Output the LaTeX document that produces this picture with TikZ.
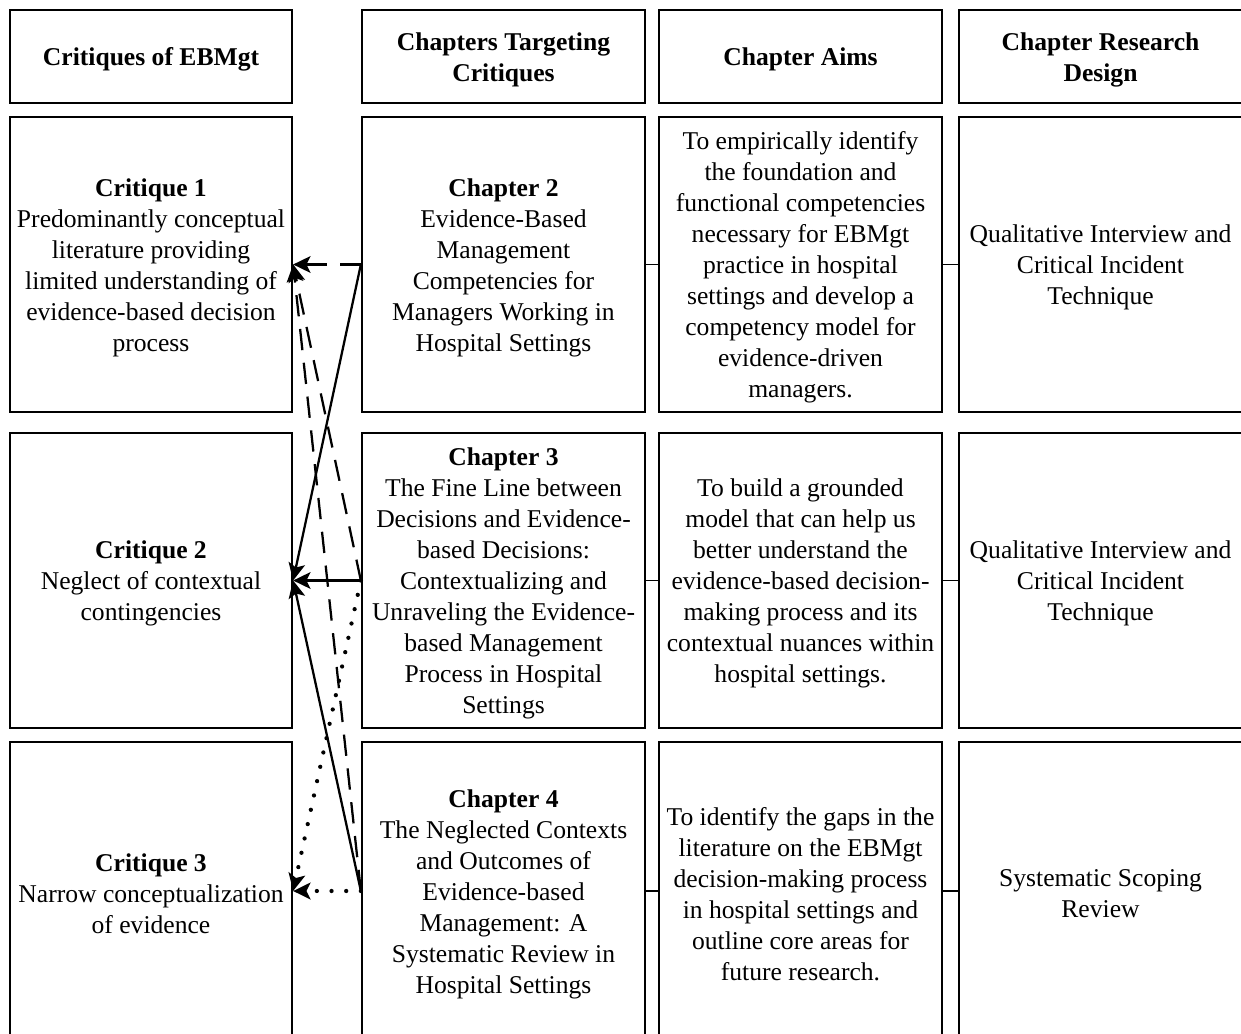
\documentclass[tikz,border=0pt]{standalone}
\usepackage{fontspec}
\setmainfont{Liberation Serif}
\usetikzlibrary{arrows.meta}
\begin{document}
\begin{tikzpicture}[x=0.75pt,y=-0.75pt,
  cell/.style={draw, line width=1.7pt, inner sep=0pt},
  colA/.style={minimum width=211.5pt},
  colB/.style={minimum width=212.25pt},
  hd/.style={cell, minimum height=69.75pt},
  rowbox/.style={cell, minimum height=221.25pt},
  lastbox/.style={cell, minimum height=223.5pt},
  txt/.style={align=center, inner sep=0pt, yshift=-2.25pt,
    font=\fontsize{19.2pt}{23.25pt}\selectfont},
  hdtxt/.style={txt, font=\fontsize{19.2pt}{23.25pt}\selectfont\bfseries},
  link/.style={line width=1.4pt},
  tip/.style={-{Stealth[length=13pt,width=12.5pt,inset=3pt]}},
  sol/.style={tip, line width=1.7pt},
  dsh/.style={tip, line width=1.7pt, dash pattern=on 16pt off 9.5pt},
  dot/.style={tip, line width=3.2pt, line cap=round, dash pattern=on 0pt off 11pt}
]
\useasboundingbox (0,0) rectangle (1241,1034);
\clip (0,0) rectangle (1241,1034);

% column headings
\node[hd, colA] (h1) at (151,56.5) {};
\node[hd, colB] (h2) at (503.5,56.5) {};
\node[hd, colB] (h3) at (800.5,56.5) {};
\node[hd, colB] (h4) at (1100.5,56.5) {};
\node[hdtxt] (h1t) at (h1.center) {Critiques of EBMgt};
\node[hdtxt] (h2t) at (h2.center) {Chapters Targeting\\Critiques};
\node[hdtxt] (h3t) at (h3.center) {Chapter Aims};
\node[hdtxt] (h4t) at (h4.center) {Chapter Research\\Design};

% row 1
\node[rowbox, colA] (c1) at (151,264.5) {};
\node[rowbox, colB] (ch2) at (503.5,264.5) {};
\node[rowbox, colB] (a1) at (800.5,264.5) {};
\node[rowbox, colB] (d1) at (1100.5,264.5) {};
\node[txt] (c1t) at (c1.center) {\textbf{Critique 1}\\Predominantly conceptual\\literature providing\\limited understanding of\\evidence-based decision\\process};
\node[txt] (ch2t) at (ch2.center) {\textbf{Chapter 2}\\Evidence-Based\\Management\\Competencies for\\Managers Working in\\Hospital Settings};
\node[txt] (a1t) at (a1.center) {To empirically identify\\the foundation and\\functional competencies\\necessary for EBMgt\\practice in hospital\\settings and develop a\\competency model for\\evidence-driven\\managers.};
\node[txt] (d1t) at (d1.center) {Qualitative Interview and\\Critical Incident\\Technique};

% row 2
\node[rowbox, colA] (c2) at (151,580.5) {};
\node[rowbox, colB] (ch3) at (503.5,580.5) {};
\node[rowbox, colB] (a2) at (800.5,580.5) {};
\node[rowbox, colB] (d2) at (1100.5,580.5) {};
\node[txt] (c2t) at (c2.center) {\textbf{Critique 2}\\Neglect of contextual\\contingencies};
\node[txt] (ch3t) at (ch3.center) {\textbf{Chapter 3}\\The Fine Line between\\Decisions and Evidence-\\based Decisions:\\Contextualizing and\\Unraveling the Evidence-\\based Management\\Process in Hospital\\Settings};
\node[txt] (a2t) at (a2.center) {To build a grounded\\model that can help us\\better understand the\\evidence-based decision-\\making process and its\\contextual nuances within\\hospital settings.};
\node[txt] (d2t) at (d2.center) {Qualitative Interview and\\Critical Incident\\Technique};

% row 3 (runs past the lower edge)
\node[lastbox, colA] (c3) at (151,891) {};
\node[lastbox, colB] (ch4) at (503.5,891) {};
\node[lastbox, colB] (a3) at (800.5,891) {};
\node[lastbox, colB] (d3) at (1100.5,891) {};
\node[txt] (c3t) at (c3.center) {\textbf{Critique 3}\\Narrow conceptualization\\of evidence};
\node[txt] (ch4t) at (ch4.center) {\textbf{Chapter 4}\\The Neglected Contexts\\and Outcomes of\\Evidence-based\\Management: A\\Systematic Review in\\Hospital Settings};
\node[txt] (a3t) at (a3.center) {To identify the gaps in the\\literature on the EBMgt\\decision-making process\\in hospital settings and\\outline core areas for\\future research.};
\node[txt] (d3t) at (d3.center) {Systematic Scoping\\Review};

% links along each row
\foreach \r in {1,2,3} {
  \draw[link] (a\r.east) -- (d\r.west);
}
\draw[link] (ch2.east) -- (a1.west);
\draw[link] (ch3.east) -- (a2.west);
\draw[link] (ch4.east) -- (a3.west);

% chapters pointing back to the critiques they address
\draw[dsh] (ch2.west) -- (c1.east);
\draw[sol] (ch2.west) -- (c2.east);
\draw[dsh] (ch3.west) -- (c1.east);
\draw[sol] (ch3.west) -- (c2.east);
\draw[dot] (ch3.west) -- (c3.east);
\draw[dsh] (ch4.west) -- (c1.east);
\draw[sol] (ch4.west) -- (c2.east);
\draw[dot] (ch4.west) -- (c3.east);
\end{tikzpicture}
\end{document}
